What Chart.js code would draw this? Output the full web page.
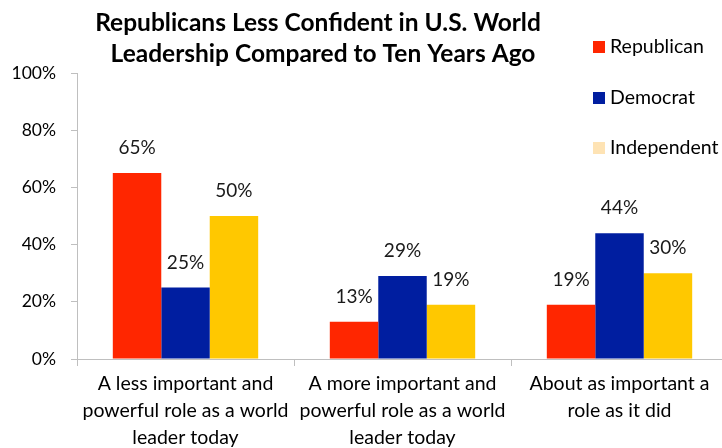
<!DOCTYPE html>
<html>
<head>
<meta charset="utf-8">
<title>U.S. World Leadership</title>
<script src="https://cdn.jsdelivr.net/npm/chart.js@4/dist/chart.umd.min.js"></script>
<style>
  html, body { margin: 0; padding: 0; background: #fff; overflow: hidden; }
  #wrap { width: 730px; height: 448px; }
</style>
</head>
<body>
<div id="wrap"><canvas id="chart" width="730" height="448"></canvas></div>
<script>
// Survey answers, one entry per category (multi-line labels)
const categories = [
    ['A less important and', 'powerful role as a world', 'leader today'],
    ['A more important and', 'powerful role as a world', 'leader today'],
    ['About as important a', 'role as it did']
];
const seriesNames = ['Republican', 'Democrat', 'Independent'];
const republican = [65, 13, 19];
const democrat = [25, 29, 44];
const independent = [50, 19, 30];
const yTicks = [0, 20, 40, 60, 80, 100];

const barColors = ['#ff2600', '#001ea0', '#ffc800'];
const legendColors = ['#ff2600', '#001ea0', '#fee3b4'];
const titleLines = ['Republicans Less Confident in U.S. World', 'Leadership Compared to Ten Years Ago'];

const textFont = 'Lato, "Open Sans", sans-serif';

// value labels over each bar
const barLabels = {
    id: 'barLabels',
    afterDatasetsDraw(chart) {
        const ctx = chart.ctx;
        ctx.save();
        ctx.font = '19px ' + textFont;
        ctx.fillStyle = '#1a1a1a';
        ctx.textAlign = 'center';
        ctx.textBaseline = 'alphabetic';
        chart.data.datasets.forEach((ds, i) => {
            chart.getDatasetMeta(i).data.forEach((bar, j) => {
                ctx.fillText(ds.data[j] + '%', bar.x, bar.y - 19);
            });
        });
        ctx.restore();
    }
};

// title and legend drawn by hand so the plot can run underneath the legend
const header = {
    id: 'header',
    afterDraw(chart) {
        const ctx = chart.ctx;
        ctx.save();
        ctx.fillStyle = '#000';
        ctx.textAlign = 'center';
        ctx.textBaseline = 'alphabetic';
        ctx.font = 'bold 24.5px ' + textFont;
        ctx.fillText(titleLines[0], 318, 31);
        ctx.fillText(titleLines[1], 323, 62);

        ctx.textAlign = 'left';
        ctx.textBaseline = 'middle';
        ctx.font = '19.5px ' + textFont;
        const ys = [47, 98, 148];
        seriesNames.forEach((name, i) => {
            ctx.fillStyle = legendColors[i];
            ctx.fillRect(593, ys[i] - 6, 12, 12);
            ctx.fillStyle = '#000';
            ctx.fillText(name, 610, ys[i]);
        });
        ctx.restore();
    }
};

const seriesData = [republican, democrat, independent];

new Chart(document.getElementById('chart'), {
    type: 'bar',
    data: {
        labels: categories,
        datasets: seriesNames.map((name, i) => ({
            label: name,
            data: seriesData[i],
            backgroundColor: barColors[i],
            borderWidth: 0,
            categoryPercentage: 0.67,
            barPercentage: 1.0
        }))
    },
    options: {
        responsive: false,
        animation: false,
        layout: { padding: { top: 73, right: 2, left: 0, bottom: 0 } },
        plugins: {
            legend: { display: false },
            title: { display: false },
            tooltip: { enabled: false }
        },
        scales: {
            x: {
                grid: {
                    drawOnChartArea: false,
                    drawTicks: true,
                    tickLength: 7,
                    color: '#bfbfbf',
                    offset: true
                },
                border: { color: '#bfbfbf', width: 1 },
                ticks: {
                    color: '#000',
                    padding: 4,
                    maxRotation: 0,
                    autoSkip: false,
                    font: { family: textFont, size: 19.5, lineHeight: 1.39 }
                },
                afterFit(scale) { scale.height = 89; }
            },
            y: {
                min: 0,
                max: 100,
                grid: {
                    drawOnChartArea: false,
                    drawTicks: true,
                    tickLength: 6,
                    color: '#bfbfbf'
                },
                border: { color: '#bfbfbf', width: 1 },
                afterBuildTicks(scale) {
                    scale.ticks = yTicks.map(v => ({ value: v }));
                },
                ticks: {
                    color: '#000',
                    padding: 15,
                    font: { family: textFont, size: 17.5 },
                    callback: v => v + '%'
                },
                afterFit(scale) { scale.width = 77; }
            }
        }
    },
    plugins: [barLabels, header]
});
</script>
</body>
</html>
